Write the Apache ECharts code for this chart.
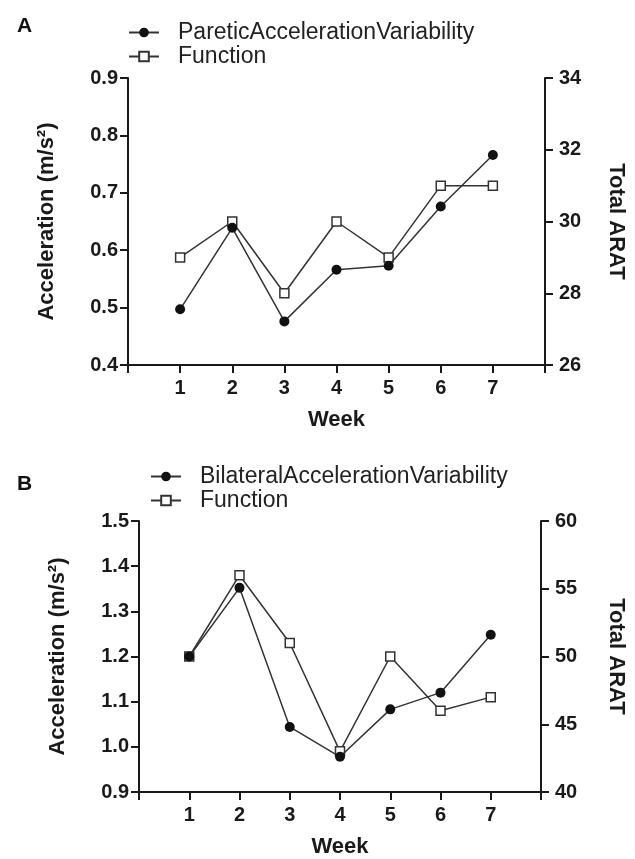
<!doctype html>
<html>
    <head>
        <meta charset="utf-8">
        <style>
            html, body { margin: 0; padding: 0; background: #fff; }
            #main { width: 635px; height: 859px; }
        </style>
    </head>
    <body>
        <div id="main"></div>
        <script src="https://cdn.jsdelivr.net/npm/echarts@6/dist/echarts.min.js"></script>
        <script>
            var chart = echarts.init(document.getElementById('main'));

            // data
            var weeks = [1, 2, 3, 4, 5, 6, 7];
            var pareticAcc = [0.497, 0.639, 0.476, 0.566, 0.573, 0.676, 0.766];
            var functionA = [29, 30, 28, 30, 29, 31, 31];
            var bilateralAcc = [1.200, 1.352, 1.044, 0.978, 1.083, 1.120, 1.248];
            var functionB = [50, 56, 51, 43, 50, 46, 47];

            var font = 'Liberation Sans';
            var ink = '#1a1a1a';

            function pairs(ys) {
                return weeks.map(function (w, i) { return [w, ys[i]]; });
            }

            function xAxis(gridIndex) {
                return {
                    type: 'value', gridIndex: gridIndex,
                    min: 0, max: 8, interval: 1,
                    name: 'Week', nameLocation: 'middle', nameGap: 44,
                    nameTextStyle: { fontFamily: font, fontWeight: 'bold', fontSize: 22, color: ink },
                    axisLine: { lineStyle: { color: ink, width: 2 } },
                    axisTick: { length: 8, lineStyle: { color: ink, width: 2 } },
                    axisLabel: {
                        margin: 13, fontFamily: font, fontWeight: 'bold', fontSize: 20, color: ink,
                        formatter: function (v) { return (v >= 1 && v <= 7) ? String(v) : ''; }
                    },
                    splitLine: { show: false }
                };
            }

            function yAxis(gridIndex, pos, min, max, step, name, gap, decimals) {
                return {
                    type: 'value', gridIndex: gridIndex, position: pos,
                    min: min, max: max, interval: step,
                    name: name, nameLocation: 'middle', nameGap: gap,
                    nameRotate: pos === 'left' ? 90 : -90,
                    nameTextStyle: { fontFamily: font, fontWeight: 'bold', fontSize: 22, color: ink },
                    axisLine: { show: true, lineStyle: { color: ink, width: 2 } },
                    axisTick: { show: true, length: 8, lineStyle: { color: ink, width: 2 } },
                    axisLabel: {
                        margin: pos === 'left' ? 10 : 14,
                        fontFamily: font, fontWeight: 'bold', fontSize: 20, color: ink,
                        formatter: function (v) { return v.toFixed(decimals); }
                    },
                    splitLine: { show: false }
                };
            }

            var circleStyle = {
                symbol: 'circle', symbolSize: 10,
                lineStyle: { color: '#333', width: 1.5 },
                itemStyle: { color: '#111', borderWidth: 0 },
                z: 4
            };
            var squareStyle = {
                symbol: 'rect', symbolSize: 9,
                lineStyle: { color: '#333', width: 1.5 },
                itemStyle: { color: '#fff', borderColor: '#333', borderWidth: 1.5 },
                z: 3
            };

            function legend(left, top, names) {
                return {
                    left: left, top: top, orient: 'vertical', padding: 0,
                    itemWidth: 30, itemHeight: 12, itemGap: 1,
                    data: names,
                    formatter: function (n) { return n.indexOf('Function') === 0 ? 'Function' : n; },
                    textStyle: {
                        fontFamily: font, fontSize: 23, color: '#222',
                        lineHeight: 21, padding: [0, 0, 0, 14]
                    }
                };
            }

            chart.setOption({
                animation: false,
                title: [
                    { text: 'A', left: 12, top: 11, textStyle: { fontFamily: font, fontWeight: 'bold', fontSize: 21, color: '#111' } },
                    { text: 'B', left: 12, top: 469, textStyle: { fontFamily: font, fontWeight: 'bold', fontSize: 21, color: '#111' } }
                ],
                legend: [
                    legend(128, 21, ['PareticAccelerationVariability', 'FunctionA']),
                    legend(150, 465, ['BilateralAccelerationVariability', 'FunctionB'])
                ],
                grid: [
                    { left: 128, right: 79, top: 78, bottom: 494 },
                    { left: 139, right: 79, top: 521, bottom: 62 }
                ],
                xAxis: [xAxis(0), xAxis(1)],
                yAxis: [
                    yAxis(0, 'left', 0.4, 0.9, 0.1, 'Acceleration (m/s²)', 70, 1),
                    yAxis(0, 'right', 26, 34, 2, 'Total ARAT', 60, 0),
                    yAxis(1, 'left', 0.9, 1.5, 0.1, 'Acceleration (m/s²)', 70, 1),
                    yAxis(1, 'right', 40, 60, 5, 'Total ARAT', 64, 0)
                ],
                series: [
                    Object.assign({ type: 'line', name: 'FunctionA', xAxisIndex: 0, yAxisIndex: 1, data: pairs(functionA) }, squareStyle),
                    Object.assign({ type: 'line', name: 'PareticAccelerationVariability', xAxisIndex: 0, yAxisIndex: 0, data: pairs(pareticAcc) }, circleStyle),
                    Object.assign({ type: 'line', name: 'FunctionB', xAxisIndex: 1, yAxisIndex: 3, data: pairs(functionB) }, squareStyle),
                    Object.assign({ type: 'line', name: 'BilateralAccelerationVariability', xAxisIndex: 1, yAxisIndex: 2, data: pairs(bilateralAcc) }, circleStyle)
                ]
            });
        </script>
    </body>
</html>
